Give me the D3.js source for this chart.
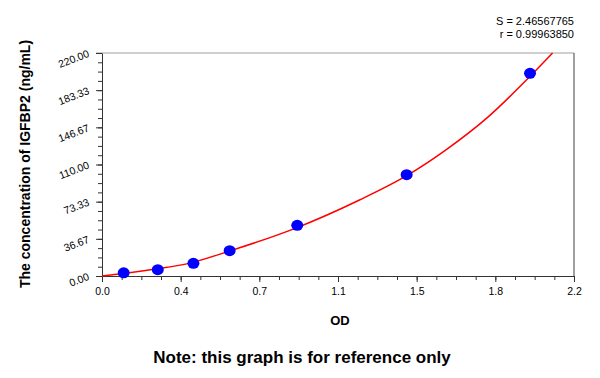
<!DOCTYPE html>
<html>
<head>
<meta charset="utf-8">
<script src="https://cdn.jsdelivr.net/npm/d3@7"></script>
<style>
  body { margin: 0; background: #fff; }
  svg { display: block; font-family: "Liberation Sans", Arial, sans-serif; }
</style>
</head>
<body>
<svg id="svg-area"></svg>
<script>
/* 標準点 (OD, 濃度) */
let odValues = [0.101, 0.26, 0.426, 0.595, 0.91, 1.42, 1.995];
let concValues = [3.13, 6.25, 12.5, 25, 50, 100, 200];

/* フィット曲線 */
let curveOD = [0, 0.1, 0.25, 0.4, 0.6, 0.9, 1.2, 1.42, 1.6, 1.8, 2.0, 2.1];
let curveConc = [0, 2.4, 6.8, 12.2, 25, 47, 75, 99, 124, 157, 198, 220];

/* 目盛りラベル */
let xTickValues = [0, 0.3667, 0.7333, 1.1, 1.4667, 1.8333, 2.2];
let xTickLabels = ["0.0", "0.4", "0.7", "1.1", "1.5", "1.8", "2.2"];
let yTickValues = [0, 36.67, 73.33, 110, 146.67, 183.33, 220];
let yTickLabels = ["0.00", "36.67", "73.33", "110.00", "146.67", "183.33", "220.00"];

let statLines = ["S = 2.46567765", "r = 0.99963850"];

let margin = { left: 102, right: 26, top: 53, bottom: 102 };
let width = 600;
let height = 378;

let svg = d3.select("#svg-area")
  .attr("width", width)
  .attr("height", height);

let xScale = d3.scaleLinear()
  .domain([0, 2.2])
  .range([margin.left, width - margin.right]);
let yScale = d3.scaleLinear()
  .domain([0, 220])
  .range([height - margin.bottom, margin.top]);

/* 枠 (上・右) */
svg.append("line")
  .attr("x1", margin.left - 6).attr("x2", width - margin.right)
  .attr("y1", margin.top).attr("y2", margin.top)
  .attr("stroke", "#a0a0a0").attr("stroke-width", 1.2);
svg.append("line")
  .attr("x1", width - margin.right).attr("x2", width - margin.right)
  .attr("y1", margin.top).attr("y2", height - margin.bottom)
  .attr("stroke", "#606060").attr("stroke-width", 1.2);

/* 副目盛り */
let minorX = d3.range(0, 25).map(i => i * 2.2 / 24);
let minorY = d3.range(0, 25).map(i => i * 220 / 24);

svg.append("g")
  .attr("transform", "translate(0," + (height - margin.bottom) + ")")
  .call(d3.axisBottom(xScale).tickValues(minorX).tickSize(4).tickFormat(""))
  .call(g => g.select(".domain").remove())
  .selectAll("line").attr("stroke", "#333");
svg.append("g")
  .attr("transform", "translate(" + margin.left + ",0)")
  .call(d3.axisLeft(yScale).tickValues(minorY).tickSize(4).tickFormat(""))
  .call(g => g.select(".domain").remove())
  .selectAll("line").attr("stroke", "#333");

/* x 軸 */
let xAxis = svg.append("g")
  .attr("class", "x_axis")
  .attr("transform", "translate(0," + (height - margin.bottom) + ")")
  .call(
    d3.axisBottom(xScale)
      .tickValues(xTickValues)
      .tickSize(6)
      .tickSizeOuter(0)
      .tickFormat((d, i) => xTickLabels[i])
  );
xAxis.select(".domain").attr("stroke", "#333");
xAxis.selectAll("line").attr("stroke", "#333");
xAxis.selectAll("text")
  .attr("font-size", 10.5).attr("fill", "#000")
  .attr("y", 12)
  .attr("font-family", "Liberation Sans, Arial, sans-serif");

/* y 軸 */
let yAxis = svg.append("g")
  .attr("class", "y_axis")
  .attr("transform", "translate(" + margin.left + ",0)")
  .call(
    d3.axisLeft(yScale)
      .tickValues(yTickValues)
      .tickSize(6)
      .tickSizeOuter(0)
      .tickFormat((d, i) => yTickLabels[i])
  );
yAxis.select(".domain").attr("stroke", "#333");
yAxis.selectAll("line").attr("stroke", "#333");
yAxis.selectAll("text")
  .attr("font-size", 10.5).attr("fill", "#000")
  .attr("font-family", "Liberation Sans, Arial, sans-serif")
  .attr("x", null).attr("dy", null)
  .attr("text-anchor", "end")
  .attr("transform", "translate(-12,3) rotate(-21)");

/* フィット曲線 */
let curveData = curveOD.map((d, i) => [d, curveConc[i]]);
svg.append("path")
  .datum(curveData)
  .attr("fill", "none")
  .attr("stroke", "#ff0000")
  .attr("stroke-width", 1.5)
  .attr("d", d3.line()
    .x(d => xScale(d[0]))
    .y(d => yScale(d[1]))
    .curve(d3.curveMonotoneX));

/* 点 */
svg.append("g")
  .selectAll("ellipse")
  .data(odValues.map((d, i) => [d, concValues[i]]))
  .join("ellipse")
  .attr("cx", d => xScale(d[0]))
  .attr("cy", d => yScale(d[1]))
  .attr("rx", 6)
  .attr("ry", 5.5)
  .attr("fill", "#0000ff");

/* 統計値 */
svg.append("g")
  .selectAll("text")
  .data(statLines)
  .join("text")
  .attr("x", width - margin.right)
  .attr("y", (d, i) => 25 + i * 13)
  .attr("text-anchor", "end")
  .attr("font-size", 11)
  .text(d => d);

/* 軸ラベル */
svg.append("text")
  .attr("transform", "translate(30,164) rotate(-90)")
  .attr("text-anchor", "middle")
  .attr("font-size", 14)
  .attr("font-weight", "bold")
  .text("The concentration of IGFBP2 (ng/mL)");

svg.append("text")
  .attr("x", 340)
  .attr("y", 325)
  .attr("text-anchor", "middle")
  .attr("font-size", 13)
  .attr("font-weight", "bold")
  .text("OD");

svg.append("text")
  .attr("x", 302)
  .attr("y", 363)
  .attr("text-anchor", "middle")
  .attr("font-size", 17)
  .attr("font-weight", "bold")
  .text("Note: this graph is for reference only");
</script>
</body>
</html>
